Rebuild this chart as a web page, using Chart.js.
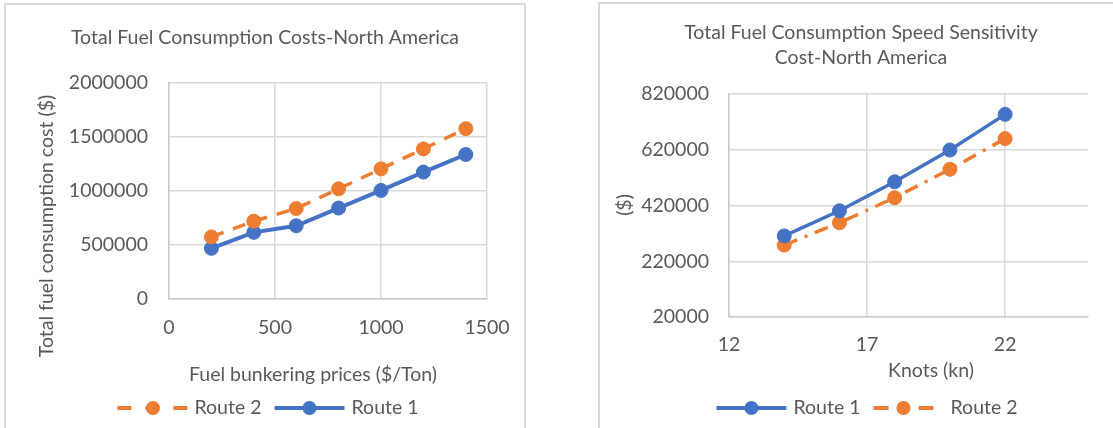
<!DOCTYPE html>
<html>
<head>
<meta charset="utf-8">
<script src="https://cdn.jsdelivr.net/npm/chart.js@4.4.1/dist/chart.umd.min.js"></script>
<style>
  html, body { margin: 0; padding: 0; background: #fff; width: 1113px; height: 428px; overflow: hidden; }
  .panel { position: absolute; border: 2px solid #d9d9d9; box-sizing: border-box; }
  #panelCost { left: 4px; top: 3px; width: 522px; height: 450px; }
  #panelSpeed { left: 598px; top: 2px; width: 560px; height: 450px; }
  canvas { position: absolute; top: 0; }
  #costChart { left: 0; }
  #speedChart { left: 560px; }
</style>
</head>
<body>
<div class="panel" id="panelCost"></div>
<div class="panel" id="panelSpeed"></div>
<canvas id="costChart" width="560" height="428"></canvas>
<canvas id="speedChart" width="553" height="428"></canvas>
<script>
// Fuel bunkering price sensitivity ($/Ton -> total cost $)
const priceLevels = [200, 400, 600, 800, 1000, 1200, 1400];
const costRoute1  = [469000, 617000, 678000, 842000, 1005000, 1175000, 1338000];
const costRoute2  = [575000, 720000, 838000, 1020000, 1205000, 1390000, 1577000];
const priceTicks  = [0, 500, 1000, 1500];
const costTicks   = [0, 500000, 1000000, 1500000, 2000000];

// Speed sensitivity (knots -> total cost $)
const speedKnots  = [14, 16, 18, 20, 22];
const speedRoute1 = [311000, 401000, 505000, 619000, 747000];
const speedRoute2 = [278000, 358000, 448000, 550000, 660000];
const knotTicks   = [12, 17, 22];
const speedTicks  = [20000, 220000, 420000, 620000, 820000];

const BLUE = '#4472C4';
const ORANGE = '#ED7D31';
const TEXT = '#595959';
const GRID = '#d9d9d9';
const FONT = 'Lato, "Open Sans", sans-serif';
const FONT_SIZE = 19.5;

Chart.defaults.font.family = FONT;
Chart.defaults.font.size = FONT_SIZE;
Chart.defaults.color = TEXT;

const toPoints = (xs, ys) => xs.map((x, i) => ({ x, y: ys[i] }));

// legend swatch: line segment in the series style with its marker in the middle
function drawSwatch(ctx, ds, item, x0, y) {
  ctx.save();
  ctx.strokeStyle = ds.borderColor;
  ctx.lineWidth = item.lineWidth;
  ctx.setLineDash(item.dash || []);
  ctx.beginPath();
  ctx.moveTo(x0, y);
  ctx.lineTo(x0 + item.sample, y);
  ctx.stroke();
  ctx.setLineDash([]);
  ctx.fillStyle = ds.pointBackgroundColor;
  ctx.beginPath();
  ctx.arc(x0 + item.sample / 2, y, ds.pointRadius, 0, Math.PI * 2);
  ctx.fill();
  ctx.restore();
}

// chart title, axis titles and legend
const decor = {
  id: 'decor',
  afterDraw(chart, args, o) {
    const ctx = chart.ctx;
    ctx.save();
    ctx.fillStyle = TEXT;
    ctx.font = `${o.size}px ${FONT}`;
    ctx.textAlign = 'center';
    ctx.textBaseline = 'middle';
    o.title.forEach((line, i) => ctx.fillText(line, o.titleX, o.titleY + i * o.titleGap));
    ctx.fillText(o.xTitle, o.xTitleX, o.xTitleY);
    ctx.save();
    ctx.translate(o.yTitleX, o.yTitleY);
    ctx.rotate(-Math.PI / 2);
    ctx.fillText(o.yTitle, 0, 0);
    ctx.restore();

    const lg = o.legend;
    const items = lg.items.map(it => {
      const ds = chart.data.datasets[it.index];
      return { it, ds, tw: ctx.measureText(ds.label).width };
    });
    const total = items.reduce((s, e, i) => s + e.it.sample + e.it.gap + e.tw + (i ? lg.spacing : 0), 0);
    let x = lg.cx - total / 2;
    items.forEach((e, i) => {
      if (i) x += lg.spacing;
      drawSwatch(ctx, e.ds, e.it, x, lg.y);
      x += e.it.sample + e.it.gap;
      ctx.textAlign = 'left';
      ctx.fillStyle = TEXT;
      ctx.fillText(e.ds.label, x, lg.y);
      x += e.tw;
    });
    ctx.restore();
  }
};

function axis(min, max, ticks, extent, pad, isY) {
  return {
    type: 'linear',
    min, max,
    afterBuildTicks: sc => { sc.ticks = ticks.map(value => ({ value })); },
    afterFit: sc => { if (isY) sc.width = extent; else sc.height = extent; },
    grid: { color: GRID, lineWidth: 1.5, drawTicks: false },
    border: { color: '#cccccc', width: 1.5 },
    ticks: { padding: pad, color: TEXT, font: { size: FONT_SIZE }, callback: v => String(v) }
  };
}

new Chart(document.getElementById('costChart'), {
  type: 'line',
  data: {
    datasets: [
      {
        label: 'Route 2',
        data: toPoints(priceLevels, costRoute2),
        borderColor: ORANGE, backgroundColor: ORANGE,
        pointBackgroundColor: ORANGE, pointBorderColor: ORANGE,
        borderWidth: 3.5, borderDash: [13, 10],
        pointRadius: 7, pointBorderWidth: 1, tension: 0
      },
      {
        label: 'Route 1',
        data: toPoints(priceLevels, costRoute1),
        borderColor: BLUE, backgroundColor: BLUE,
        pointBackgroundColor: BLUE, pointBorderColor: BLUE,
        borderWidth: 4, pointRadius: 7, pointBorderWidth: 1, tension: 0
      }
    ]
  },
  options: {
    responsive: false,
    animation: false,
    layout: { padding: { left: 49, top: 83, right: 73, bottom: 79 } },
    scales: {
      x: axis(0, 1500, priceTicks, 50, 17, false),
      y: axis(0, 2000000, costTicks, 120, 21, true)
    },
    plugins: {
      legend: { display: false },
      tooltip: { enabled: false },
      decor: {
        size: FONT_SIZE,
        title: ['Total Fuel Consumption Costs-North America'],
        titleX: 265, titleY: 38, titleGap: 0,
        xTitle: 'Fuel bunkering prices ($/Ton)', xTitleX: 313, xTitleY: 375,
        yTitle: 'Total fuel consumption cost ($)', yTitleX: 47, yTitleY: 226,
        legend: {
          cx: 268, y: 408, spacing: 13,
          items: [
            { index: 0, sample: 71, gap: 6, lineWidth: 4, dash: [14, 14] },
            { index: 1, sample: 70, gap: 7, lineWidth: 4 }
          ]
        }
      }
    }
  },
  plugins: [decor]
});

new Chart(document.getElementById('speedChart'), {
  type: 'line',
  data: {
    datasets: [
      {
        label: 'Route 1',
        data: toPoints(speedKnots, speedRoute1),
        borderColor: BLUE, backgroundColor: BLUE,
        pointBackgroundColor: BLUE, pointBorderColor: BLUE,
        borderWidth: 3.5, pointRadius: 7, pointBorderWidth: 1, tension: 0
      },
      {
        label: 'Route 2',
        data: toPoints(speedKnots, speedRoute2),
        borderColor: ORANGE, backgroundColor: ORANGE,
        pointBackgroundColor: ORANGE, pointBorderColor: ORANGE,
        borderWidth: 3.5, borderDash: [14, 8, 3, 8],
        pointRadius: 7, pointBorderWidth: 1, tension: 0
      }
    ]
  },
  options: {
    responsive: false,
    animation: false,
    layout: { padding: { left: 49, top: 94, right: 25, bottom: 61 } },
    scales: {
      x: axis(12, 25, knotTicks, 50, 16, false),
      y: axis(20000, 820000, speedTicks, 120, 20, true)
    },
    plugins: {
      legend: { display: false },
      tooltip: { enabled: false },
      decor: {
        size: FONT_SIZE,
        title: ['Total Fuel Consumption Speed Sensitivity', 'Cost-North America'],
        titleX: 301, titleY: 33, titleGap: 25,
        xTitle: 'Knots (kn)', xTitleX: 371, xTitleY: 371,
        yTitle: '($)', yTitleX: 65, yTitleY: 205,
        legend: {
          cx: 307, y: 408, spacing: 13,
          items: [
            { index: 0, sample: 70, gap: 7, lineWidth: 4 },
            { index: 1, sample: 60, gap: 17, lineWidth: 4, dash: [15, 30] }
          ]
        }
      }
    }
  },
  plugins: [decor]
});
</script>
</body>
</html>
